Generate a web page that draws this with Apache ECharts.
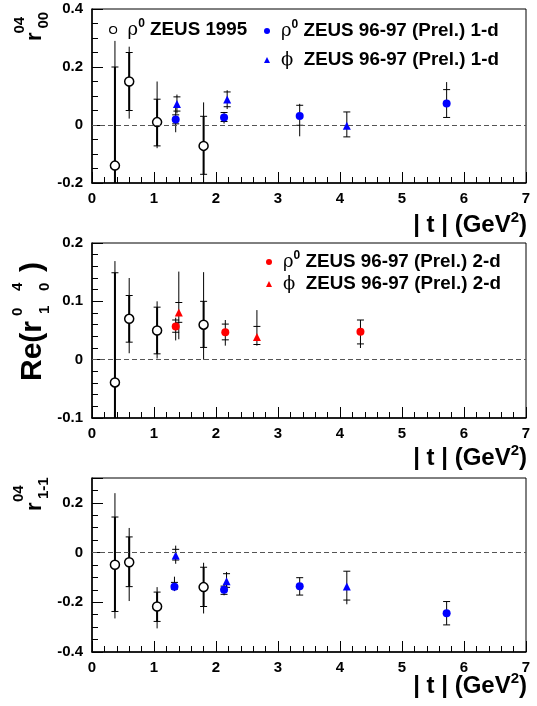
<!DOCTYPE html>
<html>
<head>
<meta charset="utf-8">
<script src="https://cdn.jsdelivr.net/npm/echarts@6/dist/echarts.min.js"></script>
<style>
  html, body { margin: 0; padding: 0; background: #fff; }
  #chart { width: 537px; height: 706px; }
</style>
</head>
<body>
<div id="chart"></div>
<script>
// rows: [|t|, value, statLow, statHigh, totalLow, totalHigh]
const zeus95R00 = [
  [0.37, -0.14, -0.48, 0.20, -0.57, 0.29],
  [0.60, 0.15, 0.05, 0.25, 0.022, 0.27],
  [1.05, 0.01, -0.072, 0.089, -0.08, 0.15],
  [1.80, -0.072, -0.17, 0.03, -0.20, 0.078]
];
const rho1dR00 = [
  [1.35, 0.019, 0.004, 0.035, -0.025, 0.062],
  [2.13, 0.026, 0.012, 0.043, 0.005, 0.045],
  [3.35, 0.031, -0.001, 0.068, -0.039, 0.073],
  [5.72, 0.074, 0.026, 0.122, 0.026, 0.148]
];
const phi1dR00 = [
  [1.37, 0.072, 0.048, 0.097, 0.040, 0.105],
  [2.18, 0.088, 0.063, 0.114, 0.055, 0.120],
  [4.11, -0.003, -0.041, 0.045, -0.041, 0.045]
];

const zeus95R10 = [
  [0.37, -0.039, -0.23, 0.149, -0.25, 0.169],
  [0.60, 0.07, 0.03, 0.11, 0.011, 0.14],
  [1.05, 0.05, 0.01, 0.09, 0.002, 0.10],
  [1.80, 0.06, 0.021, 0.10, 0.0, 0.15]
];
const rho2dR10 = [
  [1.35, 0.057, 0.047, 0.068, 0.033, 0.072],
  [2.15, 0.047, 0.034, 0.061, 0.024, 0.068],
  [4.33, 0.048, 0.027, 0.068, 0.020, 0.068]
];
const phi2dR10 = [
  [1.40, 0.081, 0.064, 0.098, 0.035, 0.151],
  [2.66, 0.039, 0.026, 0.057, 0.024, 0.085]
];

const zeus95R1m1 = [
  [0.37, -0.049, -0.237, 0.143, -0.265, 0.239],
  [0.60, -0.039, -0.137, 0.063, -0.195, 0.099],
  [1.05, -0.217, -0.277, -0.159, -0.305, -0.139],
  [1.80, -0.139, -0.217, -0.059, -0.245, -0.041]
];
const rho1dR1m1 = [
  [1.33, -0.137, -0.147, -0.12, -0.155, -0.097],
  [2.13, -0.150, -0.168, -0.135, -0.172, -0.130],
  [3.35, -0.135, -0.171, -0.101, -0.171, -0.101],
  [5.72, -0.244, -0.291, -0.197, -0.291, -0.197]
];
const phi1dR1m1 = [
  [1.35, -0.012, -0.030, 0.013, -0.045, 0.028],
  [2.17, -0.115, -0.140, -0.085, -0.145, -0.078],
  [4.11, -0.136, -0.191, -0.075, -0.208, -0.075]
];

const yRanges = [[-0.2, 0.4, 0.2, 4], [-0.1, 0.2, 0.1, 5], [-0.4, 0.3, 0.2, 4]];
const gridTops = [9, 243, 478];
const gridHeights = [174, 175, 174];

const FONT = '"Liberation Sans", Arial, Helvetica, sans-serif';
const GREEK = '"DejaVu Serif", "Liberation Serif", serif';

const legendText = {
  rho95: '{g|ρ}{s|0}{b| ZEUS 1995}',
  rho1d: '{g|ρ}{s|0}{b| ZEUS 96-97 (Prel.) 1-d}',
  phi1d: '{g|ϕ}{b|  ZEUS 96-97 (Prel.) 1-d}',
  rho2d: '{g|ρ}{s|0}{b| ZEUS 96-97 (Prel.) 2-d}',
  phi2d: '{g|ϕ}{b|  ZEUS 96-97 (Prel.) 2-d}'
};
const legendRich = {
  g: { fontFamily: GREEK, fontSize: 18, fontWeight: 'normal', color: '#000', padding: [0, 0, 0, 6], lineHeight: 24 },
  s: { fontFamily: FONT, fontSize: 12, fontWeight: 'bold', color: '#000', verticalAlign: 'top', lineHeight: 12 },
  b: { fontFamily: FONT, fontSize: 18.8, fontWeight: 'bold', color: '#000', lineHeight: 24 }
};

function errorBars(thickStat) {
  return function (params, api) {
    const t = api.value(0);
    const sLo = api.coord([t, api.value(2)]);
    const sHi = api.coord([t, api.value(3)]);
    const tLo = api.coord([t, api.value(4)]);
    const tHi = api.coord([t, api.value(5)]);
    const x = sLo[0];
    const thin = { stroke: '#000', lineWidth: 1 };
    const children = [
      { type: 'line', shape: { x1: x, y1: tLo[1], x2: x, y2: tHi[1] }, style: thin },
      { type: 'line', shape: { x1: x - 3.5, y1: sLo[1], x2: x + 3.5, y2: sLo[1] }, style: thin },
      { type: 'line', shape: { x1: x - 3.5, y1: sHi[1], x2: x + 3.5, y2: sHi[1] }, style: thin }
    ];
    if (thickStat) {
      children.push({ type: 'line', shape: { x1: x, y1: sLo[1], x2: x, y2: sHi[1] }, style: { stroke: '#000', lineWidth: 2 } });
    }
    return { type: 'group', children };
  };
}

function bars(rows, g, thick) {
  return {
    type: 'custom', name: 'err' + g, xAxisIndex: g, yAxisIndex: g,
    data: rows, renderItem: errorBars(thick), clip: true, z: 2, silent: true,
    encode: { x: 0, y: 1 }
  };
}

function marks(name, rows, g, symbol, color, size, border) {
  return {
    type: 'scatter', name, xAxisIndex: g, yAxisIndex: g,
    data: rows.map(r => [r[0], r[1]]),
    symbol, symbolSize: size, z: 3, silent: true,
    itemStyle: border
      ? { color: '#fff', borderColor: border, borderWidth: 1.5, opacity: 1 }
      : { color, borderWidth: 0, opacity: 1 }
  };
}

function zeroLine(series) {
  series.markLine = {
    silent: true, symbol: ['none', 'none'], label: { show: false },
    lineStyle: { color: '#555', type: [5, 3], width: 1.2 },
    data: [{ yAxis: 0 }]
  };
  return series;
}

const xAxes = [0, 1, 2].map(i => ({
  type: 'value', gridIndex: i, min: 0, max: 7, interval: 1,
  axisLine: { onZero: false, lineStyle: { color: '#000', width: 1.5 } },
  axisTick: { inside: true, length: 11, lineStyle: { color: '#000', width: 1 } },
  minorTick: { show: true, splitNumber: 5, length: 6, lineStyle: { color: '#000', width: 1 } },
  splitLine: { show: false },
  axisLabel: { color: '#000', fontSize: 15, fontWeight: 'bold', fontFamily: FONT, margin: 8 }
}));

const yAxes = yRanges.map((r, i) => ({
  type: 'value', gridIndex: i, min: r[0], max: r[1], interval: r[2],
  axisLine: { onZero: false, lineStyle: { color: '#000', width: 1.5 } },
  axisTick: { inside: true, length: 11, lineStyle: { color: '#000', width: 1 } },
  minorTick: { show: true, splitNumber: r[3], length: 6, lineStyle: { color: '#000', width: 1 } },
  splitLine: { show: false },
  axisLabel: {
    color: '#000', fontSize: 15, fontWeight: 'bold', fontFamily: FONT, margin: 9,
    showMaxLabel: i !== 2
  }
}));

const grids = gridTops.map((top, i) => ({
  left: 92, right: 11, top, height: gridHeights[i],
  show: true, borderColor: '#000', borderWidth: 1, backgroundColor: 'transparent',
  outerBoundsMode: 'none'
}));

function tTitle(y) {
  return {
    type: 'text', x: 527, y, silent: true,
    style: {
      text: '{a|| t | (GeV}{s|2}{a|)}', align: 'right', verticalAlign: 'top',
      rich: {
        a: { fontFamily: FONT, fontSize: 24, fontWeight: 'bold', fill: '#000', lineHeight: 30 },
        s: { fontFamily: FONT, fontSize: 15, fontWeight: 'bold', fill: '#000', lineHeight: 15, verticalAlign: 'top' }
      }
    }
  };
}

function vText(text, x, y, size) {
  return {
    type: 'text', x, y, rotation: Math.PI / 2, silent: true,
    style: { text, fontFamily: FONT, fontSize: size, fontWeight: 'bold', fill: '#000', align: 'left', verticalAlign: 'middle' }
  };
}

const chart = echarts.init(document.getElementById('chart'), null, { renderer: 'canvas' });
chart.setOption({
  animation: false,
  backgroundColor: '#fff',
  grid: grids,
  xAxis: xAxes,
  yAxis: yAxes,
  legend: [
    {
      data: [{ name: 'rho95', icon: 'circle', itemStyle: { color: '#fff', borderColor: '#000', borderWidth: 1.2 } }],
      left: 104, top: 13, itemWidth: 7, itemHeight: 7, selectedMode: false,
      formatter: n => legendText[n], textStyle: { rich: legendRich }
    },
    {
      data: [
        { name: 'rho1d', icon: 'circle', itemStyle: { color: '#0000ff' } },
        { name: 'phi1d', icon: 'triangle', itemStyle: { color: '#0000ff' } }
      ],
      orient: 'vertical', left: 259, top: 14, itemGap: 10, itemWidth: 6, itemHeight: 6, selectedMode: false,
      formatter: n => legendText[n], textStyle: { rich: legendRich }
    },
    {
      data: [
        { name: 'rho2d', icon: 'circle', itemStyle: { color: '#ff0000' } },
        { name: 'phi2d', icon: 'triangle', itemStyle: { color: '#ff0000' } }
      ],
      orient: 'vertical', left: 261, top: 245, itemGap: 3, itemWidth: 6, itemHeight: 6, selectedMode: false,
      formatter: n => legendText[n], textStyle: { rich: legendRich }
    }
  ],
  series: [
    bars(zeus95R00, 0, true), bars(rho1dR00, 0, false), bars(phi1dR00, 0, false),
    zeroLine(marks('rho95', zeus95R00, 0, 'circle', '#fff', 9, '#000')),
    marks('rho1d', rho1dR00, 0, 'circle', '#0000ff', 8),
    marks('phi1d', phi1dR00, 0, 'triangle', '#0000ff', 8),

    bars(zeus95R10, 1, true), bars(rho2dR10, 1, false), bars(phi2dR10, 1, false),
    zeroLine(marks('rho95', zeus95R10, 1, 'circle', '#fff', 9, '#000')),
    marks('rho2d', rho2dR10, 1, 'circle', '#ff0000', 8),
    marks('phi2d', phi2dR10, 1, 'triangle', '#ff0000', 8),

    bars(zeus95R1m1, 2, true), bars(rho1dR1m1, 2, false), bars(phi1dR1m1, 2, false),
    zeroLine(marks('rho95', zeus95R1m1, 2, 'circle', '#fff', 9, '#000')),
    marks('rho1d', rho1dR1m1, 2, 'circle', '#0000ff', 8),
    marks('phi1d', phi1dR1m1, 2, 'triangle', '#0000ff', 8)
  ],
  graphic: [
    tTitle(210), tTitle(443), tTitle(671),
    // r^{04}_{00}
    vText('r', 35.3, 41, 22), vText('04', 19.5, 33.5, 15), vText('00', 43.5, 28.5, 15),
    // Re(r^{0 4}_{1 0})
    vText('Re(r', 33, 381, 30), vText('0', 18, 316, 15), vText('4', 18, 291, 15),
    vText('1', 44.5, 314, 15), vText('0', 44.5, 291, 15), vText(')', 33, 272, 30),
    // r^{04}_{1-1}
    vText('r', 35.3, 511, 22), vText('04', 19, 502, 15), vText('1-1', 43.5, 499, 15)
  ]
});
</script>
</body>
</html>
